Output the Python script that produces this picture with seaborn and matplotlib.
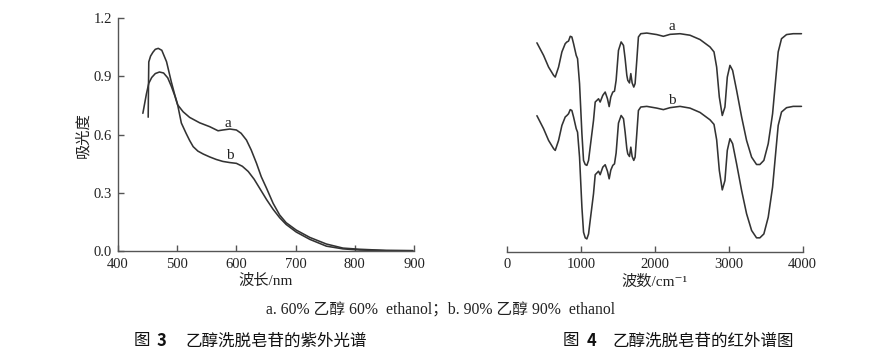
import numpy as np
import pandas as pd
import matplotlib
matplotlib.use("Agg")
import matplotlib.pyplot as plt
import seaborn as sns

# ---------------- data ----------------
# UV spectra (wavelength nm, absorbance)
uv_a_x = [451, 451.5, 452, 455, 459, 463, 468, 474, 482, 490, 496, 501, 510, 521, 538, 555,
          569, 577, 589, 600, 608, 617, 625, 634, 642, 651, 662, 673, 684, 701, 724, 752,
          780, 808, 853, 898]
uv_a_y = [0.69, 0.85, 0.975, 1.005, 1.025, 1.04, 1.045, 1.035, 0.976, 0.873, 0.804, 0.753,
          0.718, 0.689, 0.661, 0.641, 0.620, 0.624, 0.629, 0.624, 0.607, 0.572, 0.521, 0.452,
          0.383, 0.323, 0.246, 0.186, 0.146, 0.108, 0.070, 0.036, 0.015, 0.009, 0.003, 0.002]
uv_b_x = [442, 445, 448, 452, 457, 463, 470, 477, 484, 490, 496, 501, 507, 515, 521, 527,
          535, 544, 555, 566, 577, 589, 600, 610, 620, 630, 640, 651, 662, 673, 684, 701,
          724, 752, 780, 808, 853, 898]
uv_b_y = [0.71, 0.76, 0.81, 0.865, 0.895, 0.915, 0.923, 0.918, 0.893, 0.85, 0.80, 0.75,
          0.66, 0.607, 0.57, 0.538, 0.515, 0.50, 0.485, 0.472, 0.462, 0.456, 0.452, 0.437,
          0.41, 0.37, 0.32, 0.265, 0.215, 0.172, 0.137, 0.098, 0.060, 0.025, 0.011, 0.005,
          0.002, 0.001]

# IR spectra (wavenumber cm-1, transmittance, arbitrary units)
ir_x = [405, 495, 563, 631, 653, 698, 743, 788, 811, 833, 856, 878, 901, 937, 955, 982,
        1014, 1036, 1059, 1081, 1104, 1126, 1171, 1194, 1239, 1261, 1297, 1329, 1360, 1383,
        1405, 1432, 1455, 1477, 1509, 1545, 1577, 1599, 1622, 1635, 1658, 1676, 1694, 1716,
        1734, 1757, 1779, 1811, 1892, 2027, 2117, 2207, 2342, 2477, 2613, 2748, 2802, 2838,
        2874, 2914, 2950, 2982, 3018, 3054, 3108, 3176, 3243, 3311, 3378, 3423, 3477, 3536,
        3595, 3640, 3671, 3716, 3784, 3874, 3986]
ir_a = [95.0, 89.2, 83.8, 80.0, 79.2, 83.8, 90.8, 94.6, 95.4, 95.8, 98.0, 97.7, 94.6, 89.2,
        87.7, 76.2, 53.1, 40.8, 38.9, 38.5, 40.8, 46.9, 59.2, 67.7, 69.2, 67.7, 70.8, 72.3,
        69.2, 65.6, 70.0, 72.3, 72.7, 77.7, 91.5, 95.4, 93.8, 87.7, 80.0, 77.7, 76.5, 80.8,
        76.5, 74.6, 76.2, 86.9, 97.7, 99.2, 99.5, 98.8, 98.0, 98.9, 99.2, 98.5, 96.5, 93.1,
        90.8, 83.8, 70.0, 61.5, 65.4, 79.2, 84.6, 82.3, 73.1, 60.8, 50.0, 42.3, 38.9, 38.9,
        40.8, 48.5, 62.3, 79.2, 90.8, 96.9, 98.8, 99.2, 99.2]
ir_b = [61.4, 55.4, 50.0, 46.2, 45.4, 50.0, 56.9, 60.8, 61.5, 62.3, 64.2, 63.8, 60.8, 55.4,
        53.8, 42.3, 19.2, 7.7, 5.1, 4.6, 6.9, 13.1, 25.4, 34.2, 35.8, 34.2, 37.7, 38.8,
        35.8, 32.3, 36.3, 38.5, 39.2, 44.2, 58.0, 61.5, 60.0, 53.8, 46.2, 43.8, 42.6, 46.9,
        42.6, 40.8, 42.3, 53.1, 63.8, 65.4, 65.7, 64.9, 64.2, 65.1, 65.7, 64.9, 62.9, 59.5,
        57.4, 50.3, 36.2, 27.2, 31.5, 45.4, 50.8, 48.5, 39.2, 26.9, 16.2, 8.5, 5.1, 5.1,
        6.9, 14.6, 28.5, 45.4, 56.9, 63.1, 65.1, 65.7, 65.7]

uv_xticks = [400, 500, 600, 700, 800, 900]
uv_yticks = [0.0, 0.3, 0.6, 0.9, 1.2]
ir_xticks = [0, 1000, 2000, 3000, 4000]

# ---------------- style ----------------
sns.set_theme(style="ticks")
FAM = ['Liberation Serif', 'Noto Sans CJK SC', 'DejaVu Serif']
CJK = ['Noto Sans CJK SC', 'DejaVu Sans']
plt.rcParams['font.family'] = FAM
LINE = '#333333'
SPINE = '#555555'
TXT = '#222222'

W, H = 888, 358
fig = plt.figure(figsize=(W / 100, H / 100), dpi=100)
fig.patch.set_facecolor('white')

def box(x0, y0, x1, y1):
    return [x0 / W, 1 - y1 / H, (x1 - x0) / W, (y1 - y0) / H]

ax1 = fig.add_axes(box(118, 18.3, 414, 251))
ax2 = fig.add_axes(box(507, 18.3, 802.5, 251.5))

# ---- UV panel ----
sns.lineplot(x=uv_a_x, y=uv_a_y, ax=ax1, color=LINE, lw=1.15, sort=False, estimator=None)
sns.lineplot(x=uv_b_x, y=uv_b_y, ax=ax1, color=LINE, lw=1.15, sort=False, estimator=None)
ax1.set_xlim(400, 900)
ax1.set_ylim(0, 1.2)
ax1.set_xticks(uv_xticks)
ax1.set_yticks(uv_yticks)
ax1.set_yticklabels([f"{v:.1f}" for v in uv_yticks])
for s in ['top', 'right']:
    ax1.spines[s].set_visible(False)
for s in ['left', 'bottom']:
    ax1.spines[s].set_color(SPINE)
    ax1.spines[s].set_linewidth(1.0)
ax1.tick_params(direction='in', length=4, width=1, color=SPINE, labelsize=10.5,
                labelcolor=TXT)
ax1.tick_params(axis='x', pad=5)
ax1.tick_params(axis='y', pad=4.5)
ax1.set_xlabel("波长/nm", fontsize=11, color=TXT, family=FAM, labelpad=2)
ax1.set_ylabel("吸光度", fontsize=11, color=TXT, family=FAM, labelpad=2)
ax1.text(586, 0.66, "a", fontsize=11, color=TXT, ha='center', va='center')
ax1.text(589, 0.49, "b", fontsize=11, color=TXT, ha='center', va='center')

# ---- IR panel ----
sns.lineplot(x=ir_x, y=ir_a, ax=ax2, color=LINE, lw=1.15, sort=False, estimator=None)
sns.lineplot(x=ir_x, y=ir_b, ax=ax2, color=LINE, lw=1.15, sort=False, estimator=None)
ax2.set_xlim(0, 4000)
ax2.set_ylim(-1.2, 106.3)
ax2.set_xticks(ir_xticks)
ax2.set_yticks([])
for s in ['top', 'right', 'left']:
    ax2.spines[s].set_visible(False)
ax2.spines['bottom'].set_color(SPINE)
ax2.spines['bottom'].set_linewidth(1.0)
ax2.tick_params(axis='x', direction='in', length=4, width=1, color=SPINE, labelsize=10.5,
                labelcolor=TXT, pad=5)
ax2.set_xlabel("波数/cm⁻¹", fontsize=11, color=TXT, family=FAM, labelpad=2)
ax2.text(2230, 102.6, "a", fontsize=11, color=TXT, ha='center', va='center')
ax2.text(2230, 68.5, "b", fontsize=11, color=TXT, ha='center', va='center')

# ---- captions ----
fig.text(440 / W, 1 - 311 / H, "a. 60% 乙醇 60%  ethanol；b. 90% 乙醇 90%  ethanol",
         ha='center', va='center', fontsize=11.3, color=TXT, family=FAM)

def title(x_fig, x_num, x_rest, num, rest):
    y = 1 - 341 / H
    fig.text(x_fig / W, y, "图", ha='left', va='center', fontsize=11.9,
             color='#111111', family=CJK)
    fig.text(x_num / W, y, num, ha='left', va='center', fontsize=11.9,
             color='#111111', family=CJK, fontweight='bold')
    fig.text(x_rest / W, y, rest, ha='left', va='center', fontsize=11.9,
             color='#111111', family=CJK)

title(134, 157, 185, "3", "乙醇洗脱皂苷的紫外光谱")
title(563, 587, 612, "4", "乙醇洗脱皂苷的红外谱图")

fig.savefig("out.png", dpi=100, facecolor='white')
